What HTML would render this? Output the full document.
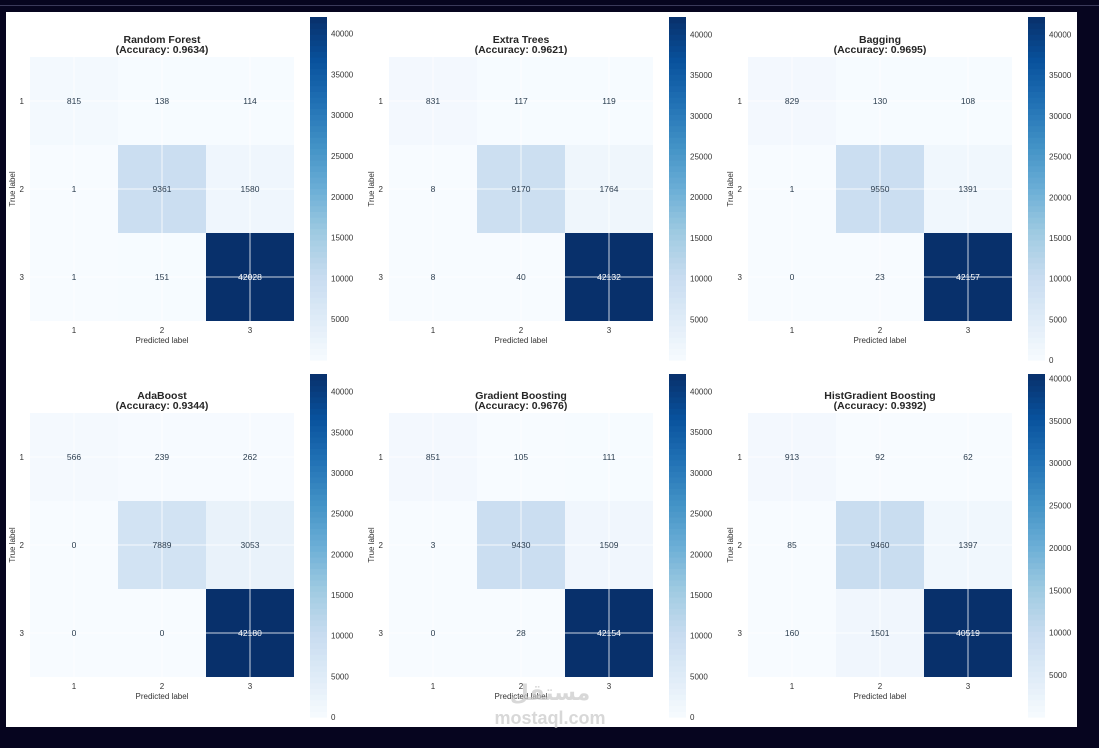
<!DOCTYPE html>
<html><head><meta charset="utf-8"><style>
html,body{margin:0;padding:0;background:#06051f;width:1099px;height:748px;overflow:hidden;font-family:"Liberation Sans",sans-serif}
#topline{position:absolute;left:0;top:5px;width:1099px;height:1px;background:#3a3a5a}
#panel{position:absolute;left:6px;top:12px;width:1071px;height:715px;background:#fff}
svg{position:absolute;left:0;top:0}
</style></head><body>
<div id="topline"></div>
<div id="panel"></div>
<svg id="chart" width="1099" height="748"></svg>
<script>
const models = ["Random Forest","Extra Trees","Bagging","AdaBoost","Gradient Boosting","HistGradient Boosting"];
const accuracies = ["0.9634","0.9621","0.9695","0.9344","0.9676","0.9392"];
const classLabels = ["1","2","3"];
const rfValues = [[815,138,114],[1,9361,1580],[1,151,42028]];
const etValues = [[831,117,119],[8,9170,1764],[8,40,42132]];
const bagValues = [[829,130,108],[1,9550,1391],[0,23,42157]];
const adaValues = [[566,239,262],[0,7889,3053],[0,0,42180]];
const gbValues = [[851,105,111],[3,9430,1509],[0,28,42154]];
const hgbValues = [[913,92,62],[85,9460,1397],[160,1501,40519]];
const allValues = [rfValues,etValues,bagValues,adaValues,gbValues,hgbValues];

const NS="http://www.w3.org/2000/svg";
const svg=document.getElementById('chart');
const blues=[[247,251,255],[222,235,247],[198,219,239],[158,202,225],[107,174,214],[66,146,198],[33,113,181],[8,81,156],[8,48,107]];
function cmap(t){t=Math.max(0,Math.min(1,t));const p=t*8,i=Math.min(7,Math.floor(p)),f=p-i;
 const a=blues[i],b=blues[i+1];return `rgb(${a.map((v,k)=>Math.round(v+(b[k]-v)*f)).join(',')})`;}
function mk(tag,attrs,parent){const e=document.createElementNS(NS,tag);for(const k in attrs)e.setAttribute(k,attrs[k]);(parent||svg).appendChild(e);return e;}
const colX=[30,389,748], rowY=[57,413], cb=[17,374];
const cell=88;
allValues.forEach((vals,m)=>{
 const ox=colX[m%3], oy=rowY[Math.floor(m/3)], cbTop=cb[Math.floor(m/3)], cbH=343;
 const flat=vals.flat(), vmin=Math.min(...flat), vmax=Math.max(...flat);
 const g=mk('g',{});
 
 
 const t1=mk('text',{x:ox+132,y:oy-14,'text-anchor':'middle','font-size':10.5,'font-weight':'bold',fill:'#262626'},g);
 t1.textContent=models[m];
 
 
 const t2=mk('text',{x:ox+132,y:oy-4,'text-anchor':'middle','font-size':10.5,'font-weight':'bold',fill:'#262626'},g);
 t2.textContent='(Accuracy: '+accuracies[m]+')';
 
 
 vals.forEach((row,r)=>row.forEach((v,c)=>{
  const t=(v-vmin)/(vmax-vmin);
  const rc=mk('rect',{x:ox+c*cell,y:oy+r*cell,width:cell,height:cell,fill:cmap(t)},g);
  
  
 }));
 for(let i=0;i<3;i++){
  mk('line',{x1:ox+i*cell+44,x2:ox+i*cell+44,y1:oy,y2:oy+264,stroke:'#fff','stroke-width':1,opacity:0.8},g);
  mk('line',{y1:oy+i*cell+44,y2:oy+i*cell+44,x1:ox,x2:ox+264,stroke:'#fff','stroke-width':1,opacity:0.8},g);
 }
 vals.forEach((row,r)=>row.forEach((v,c)=>{
  const t=(v-vmin)/(vmax-vmin);
  const tx=mk('text',{x:ox+c*cell+44,y:oy+r*cell+47,'text-anchor':'middle','font-size':8.5,fill:t>0.5?'#fff':'#2c3e50'},g);
  tx.textContent=v;
  
  
 }));
 classLabels.forEach((l,i)=>{
  const a=mk('text',{x:ox+i*cell+44,y:oy+276,'text-anchor':'middle','font-size':8,fill:'#333'},g);a.textContent=l;
  
  
  const b=mk('text',{x:ox-6,y:oy+i*cell+47,'text-anchor':'end','font-size':8,fill:'#333'},g);b.textContent=l;
  
  
 });
 const xl=mk('text',{x:ox+132,y:oy+286,'text-anchor':'middle','font-size':8,fill:'#333'},g);xl.textContent='Predicted label';
 
 
 const yl=mk('text',{x:0,y:0,'text-anchor':'middle','font-size':8,fill:'#333',transform:`translate(${ox-15},${oy+132}) rotate(-90)`},g);yl.textContent='True label';
 
 
 // colorbar
 const cbx=ox+280, n=60;
 for(let i=0;i<n;i++){
  const rr=mk('rect',{x:cbx,y:cbTop+cbH*(1-(i+1)/n),width:17,height:cbH/n+0.6,fill:cmap((i+0.5)/n)},g);
 }
 const cbr=mk('rect',{x:cbx,y:cbTop,width:17,height:cbH,fill:'none'},g);
 
 
 for(let v=0;v<=vmax;v+=5000){
  if(v<vmin)continue;
  const y=cbTop+cbH*(1-(v-vmin)/(vmax-vmin));
  const ct=mk('text',{x:cbx+21,y:y+3,'font-size':8,fill:'#333'},g);ct.textContent=v;
  
  
 }
});
const wm=mk('text',{x:550,y:700,'text-anchor':'middle','font-size':22,'font-weight':'bold',fill:'#c8c8c8',opacity:0.7,'font-family':'"Liberation Sans","DejaVu Sans",sans-serif'});
wm.textContent='مستقل';


const wm2=mk('text',{x:550,y:724,'text-anchor':'middle','font-size':18,'font-weight':'bold',fill:'#c8c8c8',opacity:0.7});
wm2.textContent='mostaql.com';


</script>
</body></html>
